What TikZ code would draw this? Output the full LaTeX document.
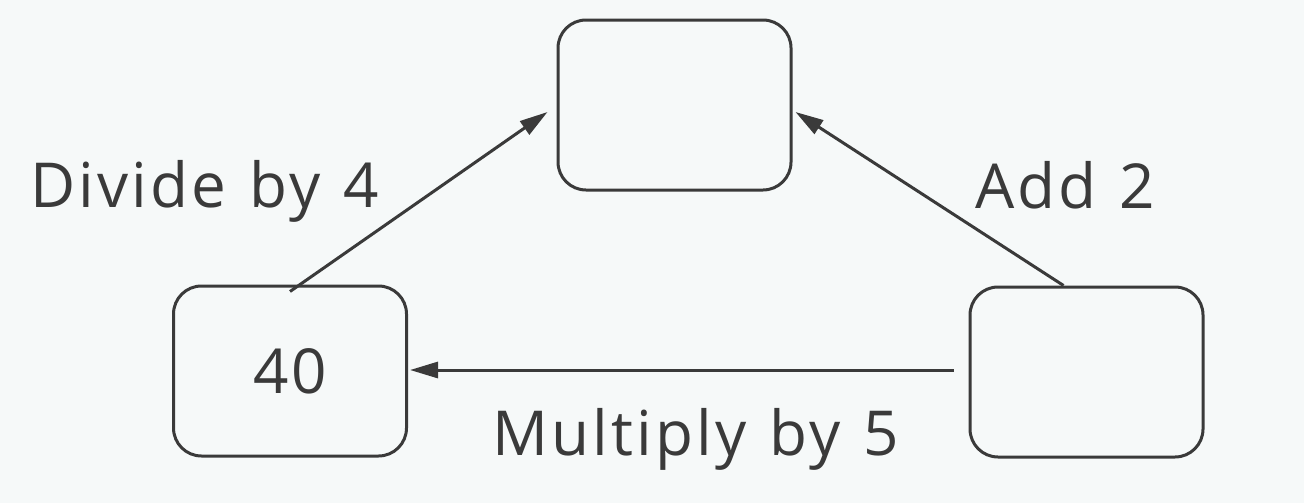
\documentclass[tikz,border=0pt]{standalone}
\usepackage{fontspec}
\setmainfont{Open Sans}
\newfontfamily\lblfont{Open Sans}[LetterSpace=5, WordSpace=1.2]
\usetikzlibrary{arrows.meta,calc}
\definecolor{ink}{RGB}{58,58,58}
\definecolor{paper}{RGB}{246,249,249}
\tikzset{
  numbox/.style={draw=ink, line width=1.5pt, rounded corners=14pt, minimum width=116.5pt, minimum height=85pt, inner sep=0pt, text=ink, font=\lblfont\fontsize{31}{36}\selectfont},
  lbl/.style={inner sep=0pt, text=ink, font=\lblfont\fontsize{31}{36}\selectfont},
  conn/.style={draw=ink, line width=1.5pt, -{Triangle[length=14pt,width=8pt]}}
}
\begin{document}
\begin{tikzpicture}[x=0.5pt,y=-0.5pt]
\fill[paper] (0,0) rectangle (1304,503);
\useasboundingbox (0,0) rectangle (1304,503);
\node[numbox] (tb) at (674.5,105) {};
\node[numbox] (lb) at (290,371) {40};
\node[numbox] (rb) at (1086.5,372) {};
\draw[conn] ($(lb.north)+(0,7)$) -- ($(tb.west)+(-9,7)$);
\draw[conn] ($(rb.north)+(-23,0)$) -- ($(tb.east)+(3,7)$);
\draw[conn] ($(rb.west)+(-15,-2)$) -- ($(lb.east)+(2,-1)$);
\node[lbl, anchor=base west] (l1) at (30,207) {Divide by 4};
\node[lbl, anchor=base west] (l2) at (975,208) {Add 2};
\node[lbl, anchor=base west] (l3) at (492,455) {Multiply by 5};
\end{tikzpicture}
\end{document}
